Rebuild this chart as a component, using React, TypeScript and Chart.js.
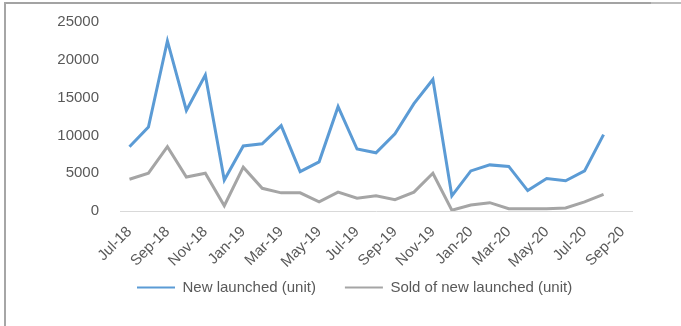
import React, { useEffect, useRef } from "react";
import { Chart, registerables } from "chart.js";

Chart.register(...registerables);

const months = [
  "Jul-18", "Aug-18", "Sep-18", "Oct-18", "Nov-18", "Dec-18",
  "Jan-19", "Feb-19", "Mar-19", "Apr-19", "May-19", "Jun-19",
  "Jul-19", "Aug-19", "Sep-19", "Oct-19", "Nov-19", "Dec-19",
  "Jan-20", "Feb-20", "Mar-20", "Apr-20", "May-20", "Jun-20",
  "Jul-20", "Aug-20", "Sep-20",
];

const newLaunched = [
  8500, 11100, 22500, 13300, 18000, 4100,
  8600, 8900, 11300, 5200, 6500, 13800,
  8200, 7700, 10200, 14200, 17400, 2000,
  5300, 6100, 5900, 2700, 4300, 4000,
  5300, 10100, null,
];

const soldOfNew = [
  4200, 5000, 8500, 4500, 5000, 700,
  5800, 3000, 2400, 2400, 1200, 2500,
  1700, 2000, 1500, 2500, 5000, 100,
  800, 1100, 300, 300, 300, 400,
  1200, 2200, null,
];

const seriesNames = ["New launched (unit)", "Sold of new launched (unit)"];
const yMin = 0;
const yMax = 25000;
const yStep = 5000;

const FONT = "'Liberation Sans', Arial, sans-serif";
const TEXT = "#595959";

const legendPlace = {
  id: "legendPlace",
  afterLayout(chart: any) {
    const l = chart.legend;
    if (!l) return;
    l.top = 251;
    l.bottom = 326;
    l.height = 75;
    l.left = 108;
    l.right = 681;
    l.width = 681 - 108;
  },
};

export default function App() {
  const ref = useRef<HTMLCanvasElement | null>(null);

  useEffect(() => {
    if (!ref.current) return;
    const chart = new Chart(ref.current, {
      type: "line",
      data: {
        labels: months,
        datasets: [
          {
            label: seriesNames[0],
            data: newLaunched,
            borderColor: "#5b9bd5",
            backgroundColor: "#5b9bd5",
            borderWidth: 3,
            pointRadius: 0,
            tension: 0,
            spanGaps: false,
          },
          {
            label: seriesNames[1],
            data: soldOfNew,
            borderColor: "#a5a5a5",
            backgroundColor: "#a5a5a5",
            borderWidth: 3,
            pointRadius: 0,
            tension: 0,
            spanGaps: false,
          },
        ],
      },
      plugins: [legendPlace],
      options: {
        responsive: false,
        animation: false,
        events: [],
        layout: { padding: { left: 50, right: 49, top: 21, bottom: 15 } },
        font: { family: FONT, size: 15 },
        scales: {
          x: {
            offset: true,
            grid: { display: false },
            border: { display: true, color: "#d9d9d9", width: 1 },
            ticks: {
              autoSkip: false,
              maxRotation: 45,
              minRotation: 45,
              padding: 4,
              color: TEXT,
              font: { family: FONT, size: 15 },
              callback: (_v: any, i: number) => (i % 2 === 0 ? months[i] : ""),
            },
            afterFit: (s: any) => {
              s.height = 60;
            },
          },
          y: {
            min: yMin,
            max: yMax,
            grid: { display: false },
            border: { display: false },
            ticks: {
              stepSize: yStep,
              padding: 13,
              color: TEXT,
              font: { family: FONT, size: 15 },
              callback: (v: any) => String(v),
            },
            afterFit: (s: any) => {
              s.width = 70;
            },
          },
        },
        plugins: {
          tooltip: { enabled: false },
          legend: {
            position: "bottom",
            align: "start",
            maxHeight: 40,
            labels: {
              boxWidth: 38,
              boxHeight: 2,
              padding: 29,
              color: TEXT,
              font: { family: FONT, size: 15 },
              generateLabels: (c: any) => {
                const items = Chart.defaults.plugins.legend.labels.generateLabels(c);
                return items.map((it: any) => ({ ...it, lineWidth: 0 }));
              },
            },
          },
        },
      },
    });
    return () => chart.destroy();
  }, []);

  return (
    <div
      style={{
        position: "fixed",
        left: 0,
        top: 0,
        width: 681,
        height: 326,
        background: "#ffffff",
        overflow: "hidden",
      }}
    >
      <canvas ref={ref} width={681} height={326} style={{ position: "absolute", left: 0, top: 0 }} />
      <div style={{ position: "absolute", left: 4, top: 2, width: 647, height: 2, background: "#a3a3a3" }} />
      <div style={{ position: "absolute", left: 651, top: 2, width: 30, height: 2, background: "#bdbdbd" }} />
      <div style={{ position: "absolute", left: 4, top: 2, width: 2, height: 324, background: "#a6a6a6" }} />
    </div>
  );
}
